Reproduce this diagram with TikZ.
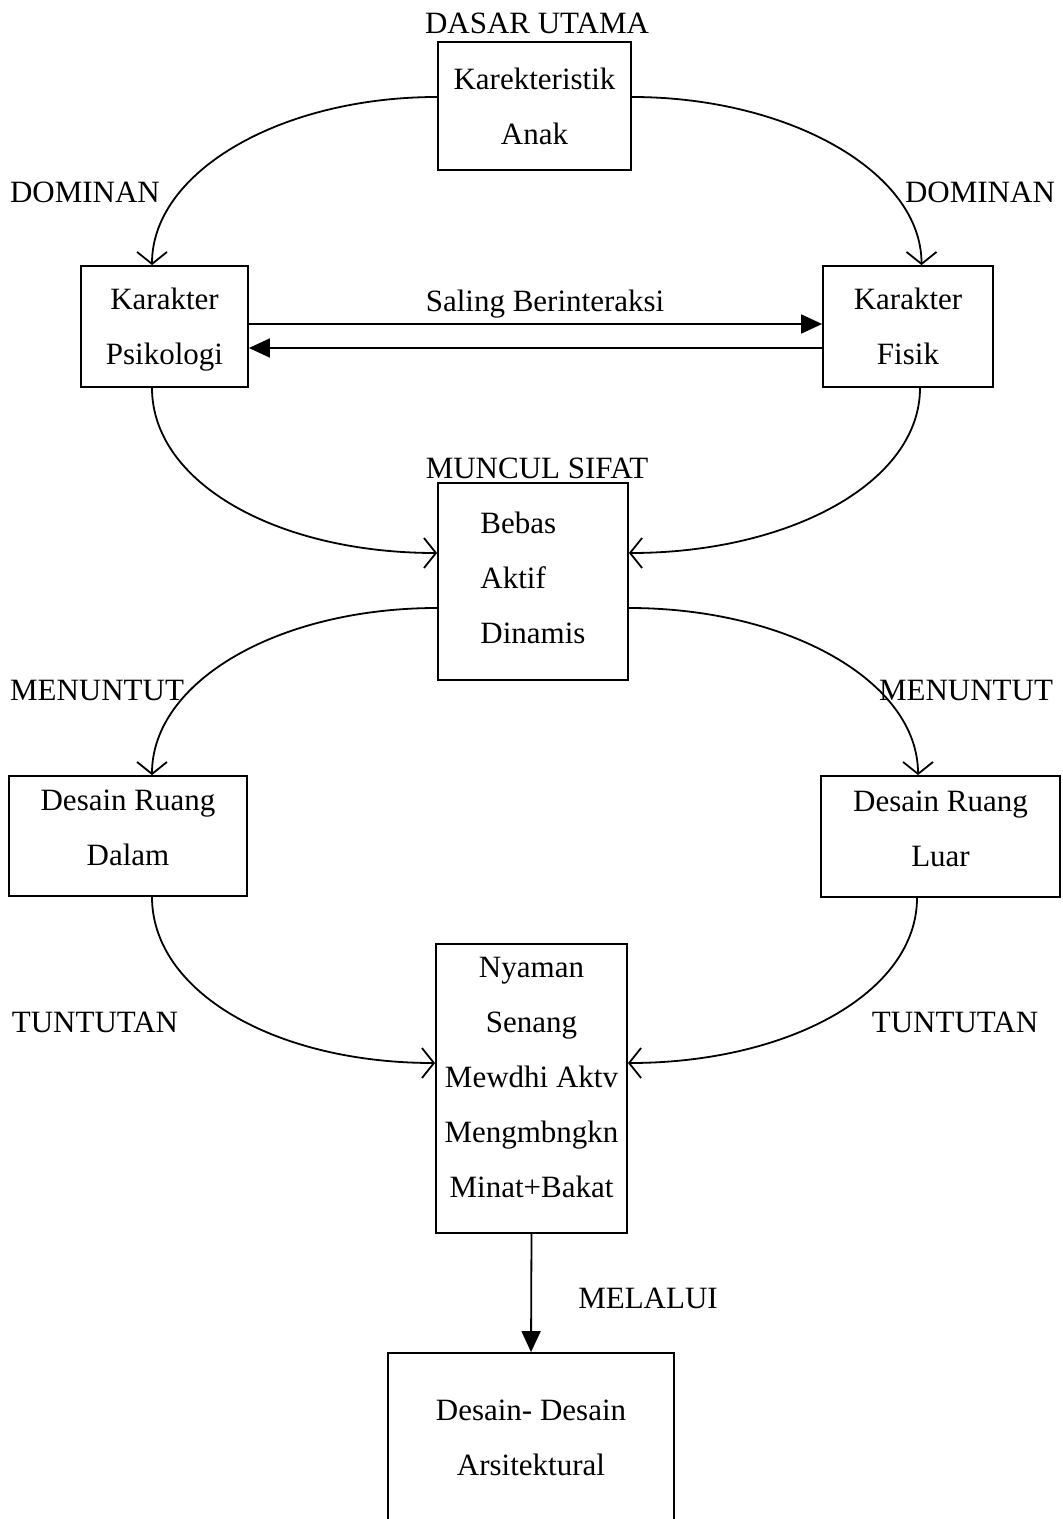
\documentclass[tikz,border=0pt]{standalone}
\usepackage{fontspec}
\setmainfont{Liberation Serif}
\usetikzlibrary{arrows.meta}
\newcommand{\teks}[0]{\fontsize{15.5pt}{27.5pt}\selectfont}
\newcommand{\tebal}[0]{0.9pt}

\begin{document}
\begin{tikzpicture}[x=0.5pt, y=-0.5pt]
  \tikzset{every node/.style={font=\teks},
    kotak/.style={draw, line width=\tebal, inner sep=0pt, align=center},
    garis/.style={line width=\tebal},
    lengkung/.style={garis, -{Straight Barb[length=6pt,width=15pt]}},
    lurus/.style={garis, -{Triangle[length=10.5pt,width=9.5pt]}}}
  \useasboundingbox (0,0) rectangle (1062,1519);
  \clip (0,0) rectangle (1062,1519);

  \node[kotak, minimum width=96.5pt, minimum height=64pt] (anak) at (534.5,106) {Karekteristik\\Anak};
  \node[kotak, text depth=-2.6pt, minimum width=83.5pt, minimum height=60.5pt] (psi) at (164.5,326.5) {Karakter\\Psikologi};
  \node[kotak, text depth=-3pt, minimum width=85pt, minimum height=60.5pt] (fis) at (908,326.5) {Karakter\\Fisik};
  \node[kotak, align=left, text depth=4pt, minimum width=95pt, minimum height=98.5pt] (sifat) at (533,581.5) {Bebas\\Aktif\\Dinamis};
  \node[kotak, text depth=8pt, minimum width=119pt, minimum height=60pt] (dalam) at (128,836) {Desain Ruang\\Dalam};
  \node[kotak, text depth=8pt, minimum width=119.5pt, minimum height=60.5pt] (luar) at (940.5,836.5) {Desain Ruang\\Luar};
  \node[kotak, text depth=11pt, minimum width=95.5pt, minimum height=144.5pt] (nyaman) at (531.5,1088.5) {Nyaman\\Senang\\Mewdhi Aktv\\Mengmbngkn\\Minat+Bakat};
  \node[kotak, minimum width=143pt, minimum height=85pt] (bawah) at (531,1438) {Desain- Desain\\Arsitektural};

  \node (dasar) at (537,23) {DASAR UTAMA};
  \node[anchor=base] (saling) at (545,312) {Saling Berinteraksi};
  \node (domkiri) at (85,192) {DOMINAN};
  \node (domkanan) at (980,192) {DOMINAN};
  \node (muncul) at (537,468) {MUNCUL SIFAT};
  \node (tutkiri) at (97,690) {MENUNTUT};
  \node (tutkanan) at (966,690) {MENUNTUT};
  \node (tuntkiri) at (95,1022) {TUNTUTAN};
  \node (tuntkanan) at (955,1022) {TUNTUTAN};
  \node (melalui) at (648,1298) {MELALUI};

  \draw[lengkung] ([yshift=4.5pt]anak.west) .. controls +(-157,0) and +(0,-93) .. ([xshift=-6.25pt]psi.north);
  \draw[lengkung] ([yshift=4.5pt]anak.east) .. controls +(157,0) and +(0,-93) .. ([xshift=6.75pt]fis.north);
  \draw[lurus] ([yshift=1.25pt]psi.east) -- ([yshift=1.25pt]fis.west);
  \draw[lurus] ([yshift=-10.75pt]fis.west) -- ([yshift=-10.75pt]psi.east);
  \draw[lengkung] ([xshift=-6.25pt]psi.south) .. controls +(0,95) and +(-160,0) .. ([yshift=14.25pt]sifat.west);
  \draw[lengkung] ([xshift=6pt]fis.south) .. controls +(0,95) and +(160,0) .. ([yshift=14.25pt]sifat.east);
  \draw[lengkung] ([yshift=-13.25pt]sifat.west) .. controls +(-160,0) and +(0,-93) .. ([xshift=12pt]dalam.north);
  \draw[lengkung] ([yshift=-13.25pt]sifat.east) .. controls +(160,0) and +(0,-93) .. ([xshift=-11.25pt]luar.north);
  \draw[lengkung] ([xshift=12pt]dalam.south) .. controls +(0,95) and +(-160,0) .. ([yshift=12.75pt]nyaman.west);
  \draw[lengkung] ([xshift=-11.75pt]luar.south) .. controls +(0,95) and +(160,0) .. ([yshift=12.75pt]nyaman.east);
  \draw[lurus] (nyaman.south) -- (bawah.north);
\end{tikzpicture}
\end{document}
